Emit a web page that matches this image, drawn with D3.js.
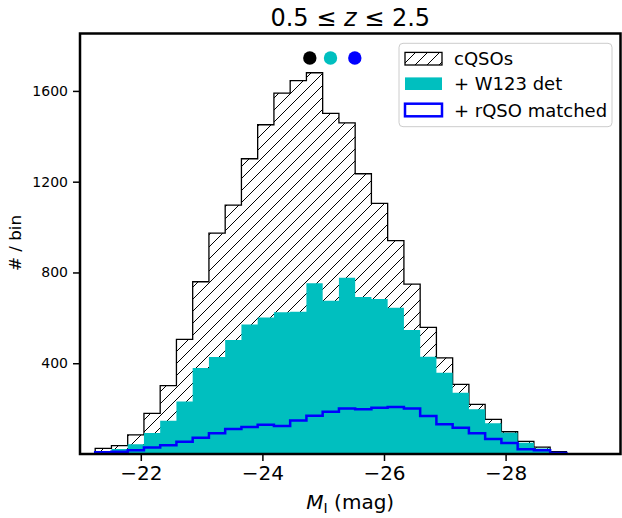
<!DOCTYPE html>
<html>
<head>
<meta charset="utf-8">
<script src="https://cdn.jsdelivr.net/npm/d3@7"></script>
<style>
  body { margin: 0; background: #fff; }
  text { font-family: "DejaVu Sans", sans-serif; fill: #000; }
</style>
</head>
<body>
<div id="chart"></div>
<script>
// Histogram data: 29 bins in M_I from -21.25 to -29.0
const binStart = -21.25;
const binEnd = -29.0;
const cqso = [25, 37, 84, 179, 301, 505, 759, 973, 1097, 1301, 1451, 1590, 1645, 1680, 1501,
              1459, 1235, 1104, 940, 749, 558, 424, 307, 219, 153, 98, 56, 30, 10];
const w123 = [5, 22, 43, 93, 147, 231, 379, 427, 502, 571, 602, 625, 627, 752, 675,
              777, 692, 683, 645, 546, 429, 358, 270, 197, 136, 94, 50, 24, 6];
const rqso = [8, 10, 17, 29, 39, 54, 72, 91, 110, 119, 129, 123, 148, 169, 186,
              201, 197, 204, 207, 201, 167, 131, 116, 91, 66, 49, 21, 16, 4];

// dots above the peak
const dotX = [-24.78, -25.12, -25.52];
const dotY = [1745, 1745, 1745];
const dotColors = ["#000000", "#00bfbf", "#0000ff"];

const xTicks = [-22, -24, -26, -28];
const yTicks = [400, 800, 1200, 1600];
const legendLabels = ["cQSOs", "+ W123 det", "+ rQSO matched"];

const width = 622, height = 518;
const pLeft = 80, pRight = 620.5, pTop = 33.5, pBottom = 454;

const x = d3.scaleLinear().domain([-21.0, -29.89]).range([pLeft, pRight]);
const y = d3.scaleLinear().domain([0, 1853]).range([pBottom, pTop]);

const nBins = cqso.length;
const step = (binEnd - binStart) / nBins;
const edges = d3.range(nBins + 1).map(i => binStart + i * step);

const svg = d3.select("#chart").append("svg")
    .attr("width", width)
    .attr("height", height);

// hatch pattern
const defs = svg.append("defs");
const pat = defs.append("pattern")
    .attr("id", "hatch")
    .attr("patternUnits", "userSpaceOnUse")
    .attr("width", 12)
    .attr("height", 12);
pat.append("rect").attr("width", 12).attr("height", 12).attr("fill", "#fff");
pat.append("path")
    .attr("d", "M0,12 L12,0 M-3,3 L3,-3 M9,15 L15,9")
    .attr("stroke", "#000")
    .attr("stroke-width", 1);

defs.append("clipPath").attr("id", "plotclip")
    .append("rect")
    .attr("x", pLeft).attr("y", pTop)
    .attr("width", pRight - pLeft).attr("height", pBottom - pTop);

// outline of a step histogram
function stepPoints(vals) {
    const pts = [[x(edges[0]), y(0)]];
    vals.forEach((v, i) => {
        pts.push([x(edges[i]), y(v)]);
        pts.push([x(edges[i + 1]), y(v)]);
    });
    pts.push([x(edges[nBins]), y(0)]);
    return pts;
}
const line = d3.line();

const plot = svg.append("g").attr("clip-path", "url(#plotclip)");

plot.append("path")
    .attr("d", line(stepPoints(cqso)) + "Z")
    .attr("fill", "url(#hatch)")
    .attr("stroke", "#000")
    .attr("stroke-width", 1.3);

plot.append("path")
    .attr("d", line(stepPoints(w123)) + "Z")
    .attr("fill", "#00bfbf")
    .attr("stroke", "none");

plot.append("path")
    .attr("d", line(stepPoints(rqso)))
    .attr("fill", "none")
    .attr("stroke", "#0000ff")
    .attr("stroke-width", 2.5);

// dots
plot.selectAll(".dot")
    .data(dotX)
    .enter()
    .append("circle")
    .attr("cx", d => x(d))
    .attr("cy", (d, i) => y(dotY[i]))
    .attr("r", 6.7)
    .attr("fill", (d, i) => dotColors[i]);

// axes
const xAxis = svg.append("g")
    .attr("transform", `translate(0,${pBottom})`)
    .call(d3.axisBottom(x).tickValues(xTicks).tickSize(7).tickPadding(5)
        .tickFormat(d => "\u2212" + Math.abs(d)));
xAxis.select(".domain").remove();
xAxis.selectAll("line").attr("stroke-width", 1.5);
xAxis.selectAll("text")
    .style("font-family", "DejaVu Sans")
    .style("font-size", "20px");

const yAxis = svg.append("g")
    .attr("transform", `translate(${pLeft},0)`)
    .call(d3.axisLeft(y).tickValues(yTicks).tickSize(7).tickPadding(5)
        .tickFormat(d3.format("d")));
yAxis.select(".domain").remove();
yAxis.selectAll("line").attr("stroke-width", 1.5);
yAxis.selectAll("text")
    .style("font-family", "DejaVu Sans")
    .style("font-size", "14px");

// frame
svg.append("rect")
    .attr("x", pLeft).attr("y", pTop)
    .attr("width", pRight - pLeft).attr("height", pBottom - pTop)
    .attr("fill", "none")
    .attr("stroke", "#000")
    .attr("stroke-width", 2.5);

// title
const title = svg.append("text")
    .attr("x", (pLeft + pRight) / 2)
    .attr("y", 26)
    .attr("text-anchor", "middle")
    .style("font-size", "24px");
title.append("tspan").text("0.5 \u2264 ");
title.append("tspan").style("font-style", "italic").text("z");
title.append("tspan").text(" \u2264 2.5");

// axis labels
const xl = svg.append("text")
    .attr("x", (pLeft + pRight) / 2)
    .attr("y", 509)
    .attr("text-anchor", "middle")
    .style("font-size", "20px");
xl.append("tspan").style("font-style", "italic").text("M");
xl.append("tspan").attr("dy", 4).style("font-size", "14px").text("I");
xl.append("tspan").attr("dy", -4).text(" (mag)");

svg.append("text")
    .attr("transform", "translate(21,243) rotate(-90)")
    .attr("text-anchor", "middle")
    .style("font-size", "16.7px")
    .text("# / bin");

// legend
const lg = svg.append("g");
lg.append("rect")
    .attr("x", 399).attr("y", 43.3)
    .attr("width", 213).attr("height", 83.4)
    .attr("rx", 4)
    .attr("fill", "#fff").attr("fill-opacity", 0.8)
    .attr("stroke", "#cccccc").attr("stroke-width", 1);

const rowY = [58.7, 83.7, 110];
const patchFill = ["url(#hatch)", "#00bfbf", "#fff"];
const patchStroke = ["#000", "none", "#0000ff"];
const patchWidth = [1.3, 0, 2.5];
legendLabels.forEach((lab, i) => {
    lg.append("rect")
        .attr("x", 405).attr("y", rowY[i] - 6.3)
        .attr("width", 37).attr("height", 12.6)
        .attr("fill", patchFill[i])
        .attr("stroke", patchStroke[i])
        .attr("stroke-width", patchWidth[i]);
    lg.append("text")
        .attr("x", 454).attr("y", rowY[i] + 6.5)
        .style("font-size", "18px")
        .text(lab);
});
</script>
</body>
</html>
